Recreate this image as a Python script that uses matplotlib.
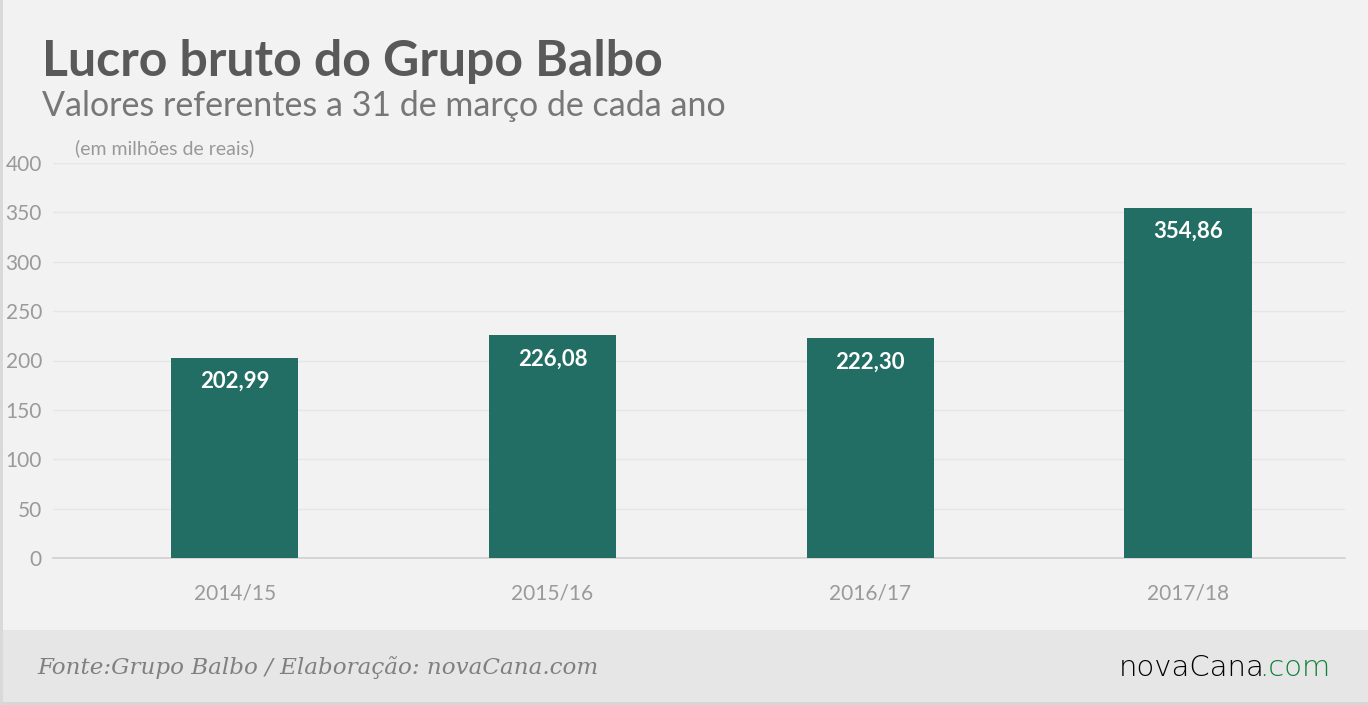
import matplotlib.pyplot as plt
import matplotlib.patches as patches

safras = ['2014/15', '2015/16', '2016/17', '2017/18']
lucro = [202.99, 226.08, 222.30, 354.86]
rotulos = ['202,99', '226,08', '222,30', '354,86']
yticks = [0, 50, 100, 150, 200, 250, 300, 350, 400]

W, H = 1368, 705
fig = plt.figure(figsize=(W / 100, H / 100), dpi=100)
fig.patch.set_facecolor('#f2f2f2')

# faixa do rodape
fig.patches.append(patches.Rectangle((0, 0), 1, 75 / H, transform=fig.transFigure,
                                     facecolor='#e6e6e6', edgecolor='none', zorder=0))
fig.patches.append(patches.Rectangle((0, 0), 1, 3 / H, transform=fig.transFigure,
                                     facecolor='#d6d6d6', edgecolor='none', zorder=1))
fig.patches.append(patches.Rectangle((0, 0), 3 / W, 1, transform=fig.transFigure,
                                     facecolor='#d9d9d9', edgecolor='none', zorder=1))

left, right = 53, 1345
top, bottom = 163, 558
ax = fig.add_axes([left / W, 1 - bottom / H, (right - left) / W, (bottom - top) / H])
ax.set_facecolor('none')

x = range(len(safras))
ax.bar(x, lucro, width=0.40, color='#236e64', zorder=3)
for i, v in enumerate(lucro):
    ax.annotate(rotulos[i], (i, v), xytext=(0, -24), textcoords='offset pixels',
                ha='center', va='center', color='white', fontsize=16,
                fontweight='bold', family='Lato', zorder=4)

ax.set_xlim(-0.572, 3.494)
ax.set_ylim(0, 400)
ax.set_yticks(yticks)
ax.set_xticks(list(x))
ax.set_xticklabels(safras)
ax.grid(axis='y', color='#e6e6e6', linewidth=1, zorder=0)
ax.tick_params(axis='both', length=0, labelsize=15, labelcolor='#9a9a9a')
ax.tick_params(axis='x', pad=18)
ax.tick_params(axis='y', pad=8)
for lab in ax.get_xticklabels() + ax.get_yticklabels():
    lab.set_family('Lato')
for s in ['top', 'right', 'left']:
    ax.spines[s].set_visible(False)
ax.spines['bottom'].set_color('#d0d0d0')
ax.spines['bottom'].set_linewidth(1.2)

fig.text(42 / W, 1 - 62 / H, 'Lucro bruto do Grupo Balbo', fontsize=36, fontweight='bold',
         color='#595959', va='center', ha='left', family='Lato')
fig.text(42 / W, 1 - 106 / H, 'Valores referentes a 31 de março de cada ano', fontsize=24.5,
         color='#777777', va='center', ha='left', family='Lato')
fig.text(75 / W, 1 - 148 / H, '(em milhões de reais)', fontsize=14,
         color='#999999', va='center', ha='left', family='Lato')
fig.text(37 / W, 1 - 668 / H, 'Fonte:Grupo Balbo / Elaboração: novaCana.com', fontsize=16.6,
         color='#808080', va='center', ha='left', family='DejaVu Serif', style='italic')
fig.text(1265 / W, 1 - 668 / H, 'novaCana', fontsize=21, color='#000000',
         va='center', ha='right', family='DejaVu Sans', fontweight='light')
fig.text(1259 / W, 1 - 668 / H, '.com', fontsize=21, color='#12803a',
         va='center', ha='left', family='DejaVu Sans', fontweight='light')

fig.savefig('out.png', dpi=100, facecolor=fig.get_facecolor())
